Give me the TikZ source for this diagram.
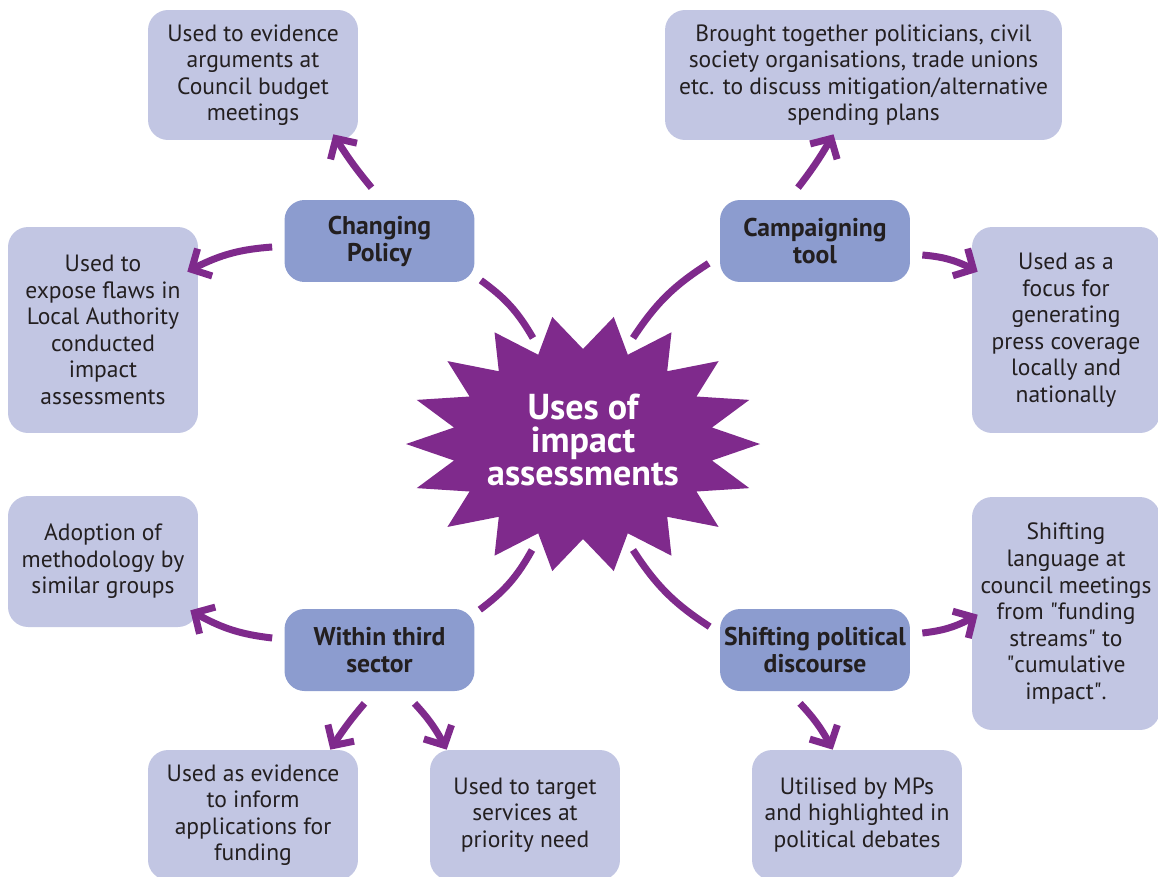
\documentclass[tikz,border=0pt]{standalone}
\usepackage{fontspec}
\setmainfont{PT Sans}
\usetikzlibrary{arrows.meta,bending,positioning,calc}
\definecolor{iapurple}{HTML}{7F2A8C}
\definecolor{ialeaf}{HTML}{C2C6E3}
\definecolor{iahub}{HTML}{8C9CCF}
\definecolor{iatext}{HTML}{231F20}

\begin{document}
\begin{tikzpicture}[x=0.02cm, y=-0.02cm,
    leaf/.style={rectangle, rounded corners=0.4cm, fill=ialeaf, text=iatext, align=center, inner sep=0pt, font=\fontsize{13.4}{15.1}\selectfont},
    hub/.style={rectangle, rounded corners=0.4cm, fill=iahub, text=iatext, align=center, inner sep=0pt, minimum width=3.8cm, minimum height=1.64cm, font=\bfseries\fontsize{14.6}{15.4}\selectfont},
    usearrow/.style={draw=iapurple, line width=0.14cm, -{Straight Barb[length=0.3cm, width=0.62cm]}},
    link/.style={draw=iapurple, line width=0.14cm, preaction={draw=white, line width=0.22cm}}]
    \useasboundingbox (0,0) rectangle (1158,876);
    \def\sx{583}
    \def\sy{444}
    \def\q{\textquotedbl}

    % star in the middle
    \fill[iapurple] (\sx+177,\sy) \foreach \a in {10,30,...,350} {
        -- ({\sx+131*cos(\a)},{\sy-95*sin(\a)}) -- ({\sx+177*cos(\a+10)},{\sy-129*sin(\a+10)}) } -- cycle;
    \node (uia) [text=white, align=center, font=\bfseries\fontsize{20.5}{18.6}\selectfont] at (\sx,440) {Uses of\\impact\\assessments};

    % the four uses
    \node (cp) [hub] at (379.5,241) {Changing\\Policy};
    \node (ct) [hub] at (815,241) {Campaigning\\tool};
    \node (ts) [hub] at (379.5,650) {Within third\\sector};
    \node (sd) [hub] at (815,650) {Shifting political\\discourse};

    % outcomes
    \node (b1) [leaf, minimum width=4.2cm, minimum height=2.6cm] at (253,75) {Used to evidence\\arguments at\\Council budget\\meetings};
    \node (b2) [leaf, minimum width=7.94cm, minimum height=2.6cm] at (863.5,75) {Brought together politicians, civil\\society organisations, trade unions\\etc. to discuss mitigation/alternative\\spending plans};
    \node (b3) [leaf, minimum width=3.8cm, minimum height=4.12cm] at (103,330) {Used to\\expose flaws in\\Local Authority\\conducted\\impact\\assessments};
    \node (b4) [leaf, minimum width=3.76cm, minimum height=4.12cm] at (1066,330) {Used as a\\focus for\\generating\\press coverage\\locally and\\nationally};
    \node (b5) [leaf, minimum width=3.8cm, minimum height=2.62cm] at (103,561.5) {Adoption of\\methodology by\\similar groups};
    \node (b6) [leaf, minimum width=3.76cm, minimum height=4.66cm] at (1066,613.5) {Shifting\\language at\\council meetings\\from \q funding\\streams\q{} to\\\q cumulative\\impact\q .};
    \node (b7) [leaf, minimum width=4.2cm, minimum height=2.6cm] at (253,815) {Used as evidence\\to inform\\applications for\\funding};
    \node (b8) [leaf, minimum width=3.8cm, minimum height=2.6cm] at (525,815) {Used to target\\services at\\priority need};
    \node (b9) [leaf, minimum width=4.2cm, minimum height=2.6cm] at (857,815) {Utilised by MPs\\and highlighted in\\political debates};

    % star to hubs
    \draw[link] ($(cp.south east)+(6,-2)$) to[bend left=12] ($(uia)+(-50,-102)$);
    \draw[link] ($(ct.south west)+(-11,-19)$) to[bend right=12] ($(uia)+(50,-102)$);
    \draw[link] ($(ts.north east)+(5,1)$) to[bend right=12] ($(uia)+(-51,110)$);
    \draw[link] ($(sd.north west)+(-10,18)$) to[bend left=12] ($(uia)+(50,110)$);

    % hubs to outcomes
    \draw[usearrow] ($(cp.north)+(-8,-12)$) to[bend left=4] ($(b1.south east)+(-25,-6)$);
    \draw[usearrow] ($(cp.west)+(-12,6)$) to[bend right=12] ($(b3.north east)+(-11,45)$);
    \draw[usearrow] ($(ct.north)+(-17,-12)$) to[bend right=4] ($(b2.south)+(-30,-6)$);
    \draw[usearrow] ($(ct.east)+(12,14)$) to[bend left=12] ($(b4.north west)+(6,45)$);
    \draw[usearrow] ($(ts.west)+(-12,-12)$) to[bend left=12] ($(b5.south east)+(-8,-17)$);
    \draw[usearrow] ($(ts.south)+(-15,12)$) to[bend right=4] ($(b7.north east)+(-28,0)$);
    \draw[usearrow] ($(ts.south)+(35,12)$) to[bend left=8] ($(b8.north west)+(17,0)$);
    \draw[usearrow] ($(sd.east)+(12,-17)$) to[bend right=12] ($(b6.north west)+(6,118)$);
    \draw[usearrow] ($(sd.south)+(-15,12)$) to[bend left=8] ($(b9.north west)+(81,0)$);
\end{tikzpicture}
\end{document}
